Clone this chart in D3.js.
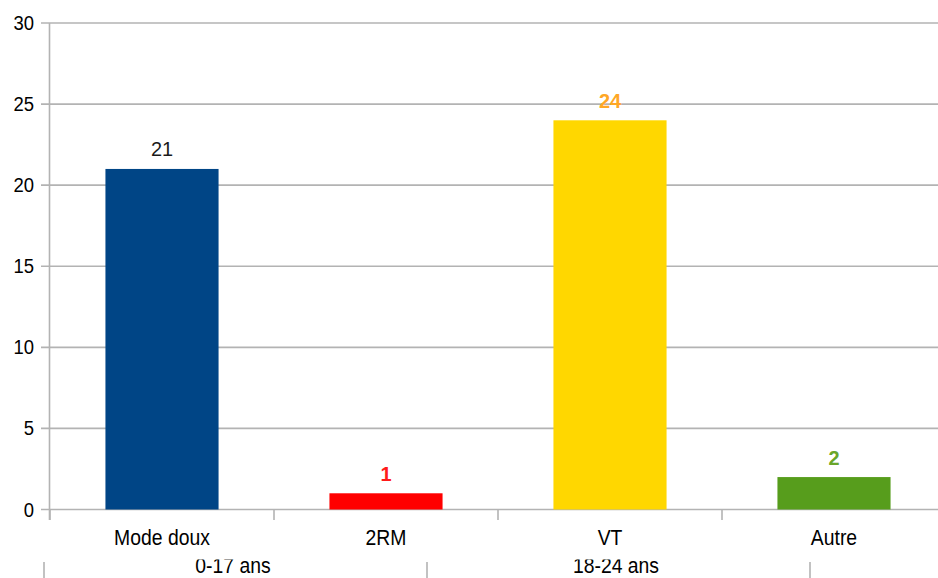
<!DOCTYPE html>
<html><head><meta charset="utf-8">
<script src="https://cdn.jsdelivr.net/npm/d3@7"></script>
<style>html,body{margin:0;padding:0;background:#fff;}svg{display:block;}</style>
</head><body>
<script>
const categories = ["Mode doux", "2RM", "VT", "Autre"];
const values = [21, 1, 24, 2];
const barColors = ["#004586", "#ff0000", "#ffd700", "#579d1c"];
const labelColors = ["#1a1a1a", "#ff1a1a", "#ffa726", "#6aa62a"];
const labelBold = [false, true, true, true];
const groups = ["0-17 ans", "18-24 ans"];
const yTicks = [0, 5, 10, 15, 20, 25, 30];

const W = 938, H = 578;
const svg = d3.select("body").append("svg").attr("width", W).attr("height", H);
const font = "'Liberation Sans', Arial, sans-serif";
const grid = "#b3b3b3";

const y = d3.scaleLinear().domain([0, 30]).range([509.5, 23]);
const x = d3.scaleBand().domain(categories).range([50, 946]);
const g2 = d3.scaleBand().domain(groups).range([44, 810]);

// gridlines
svg.append("g").selectAll("line").data(yTicks).join("line")
  .attr("x1", 41).attr("x2", W).attr("y1", d => y(d)).attr("y2", d => y(d))
  .attr("stroke", grid).attr("stroke-width", 1.6);

// y axis line
svg.append("line").attr("x1", 49.5).attr("x2", 49.5).attr("y1", y(30)).attr("y2", 520)
  .attr("stroke", grid).attr("stroke-width", 1.6);

// y labels
svg.append("g").selectAll("text").data(yTicks).join("text")
  .attr("transform", d => `translate(34,${y(d) + 7}) scale(0.88,1)`)
  .attr("text-anchor", "end").attr("font-family", font).attr("font-size", 21)
  .attr("fill", "#000").text(d => d);

// bars
const bw = x.bandwidth() * 0.505;
svg.append("g").selectAll("rect").data(values).join("rect")
  .attr("x", (d, i) => x(categories[i]) + x.bandwidth() / 2 - bw / 2)
  .attr("width", bw)
  .attr("y", d => y(d)).attr("height", d => y(0) - y(d))
  .attr("fill", (d, i) => barColors[i]);

// x axis ticks at band boundaries
const bounds = categories.map(c => x(c));
svg.append("g").selectAll("line").data(bounds).join("line")
  .attr("x1", d => d).attr("x2", d => d).attr("y1", y(0)).attr("y2", 520)
  .attr("stroke", grid).attr("stroke-width", 1.6);

// data labels
svg.append("g").selectAll("text").data(values).join("text")
  .attr("transform", (d, i) => `translate(${x(categories[i]) + x.bandwidth() / 2},${y(d) - 12.5}) scale(0.95,1)`)
  .attr("text-anchor", "middle").attr("font-family", font).attr("font-size", 21)
  .attr("font-weight", (d, i) => labelBold[i] ? "bold" : "normal")
  .attr("fill", (d, i) => labelColors[i]).text(d => d);

// category labels
svg.append("g").selectAll("text").data(categories).join("text")
  .attr("transform", d => `translate(${x(d) + x.bandwidth() / 2},545) scale(0.88,1)`)
  .attr("text-anchor", "middle").attr("font-family", font).attr("font-size", 22)
  .attr("fill", "#000").text(d => d);

// group row
const gBounds = groups.map(g => g2(g)).concat([g2(groups[groups.length - 1]) + g2.bandwidth()]);
svg.append("g").selectAll("line").data(gBounds).join("line")
  .attr("x1", d => d).attr("x2", d => d).attr("y1", 562).attr("y2", H)
  .attr("stroke", grid).attr("stroke-width", 1.6);

svg.append("clipPath").attr("id", "gclip").append("rect")
  .attr("x", 0).attr("y", 559.5).attr("width", W).attr("height", 40);
svg.append("g").attr("clip-path", "url(#gclip)").selectAll("text").data(groups).join("text")
  .attr("transform", d => `translate(${g2(d) + g2.bandwidth() / 2 - 2.5},572.5) scale(0.88,1)`)
  .attr("text-anchor", "middle").attr("font-family", font).attr("font-size", 22)
  .attr("fill", "#000").text(d => d);
</script>
</body></html>
